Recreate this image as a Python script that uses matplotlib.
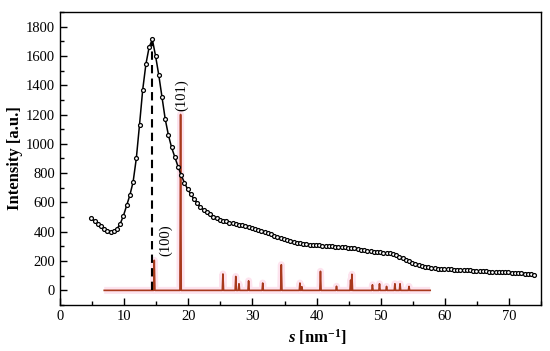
import numpy as np
import matplotlib
matplotlib.use("Agg")
import matplotlib.pyplot as plt
from matplotlib.ticker import MultipleLocator

# ---------------- data ----------------
s_start = 4.9
s_step = 0.5
intensity = [492, 470, 452, 438, 422, 408, 400, 404, 420, 455,
             510, 580, 650, 740, 900, 1130, 1370, 1545, 1660, 1712,
             1600, 1470, 1320, 1170, 1060, 975, 910, 845, 785, 735,
             690, 655, 622, 596, 570, 548, 532, 518, 503, 492,
             482, 474, 470, 463, 457, 452, 449, 446, 440, 434,
             427, 420, 412, 404, 397, 390, 382, 372, 364, 357,
             350, 344, 338, 331, 326, 322, 318, 315, 312, 310,
             309, 307, 305, 304, 303, 301, 299, 297, 295, 294,
             292, 290, 287, 283, 278, 274, 270, 267, 264, 262,
             260, 258, 255, 252, 246, 238, 228, 218, 207, 197,
             188, 180, 173, 167, 162, 158, 154, 150, 148, 146,
             145, 144, 143, 142, 141, 140, 139, 138, 137, 135,
             134, 132, 131, 130, 128, 127, 126, 125, 124, 123,
             122, 121, 120, 118, 116, 114, 112, 110, 108]
s_exp = s_start + s_step * np.arange(len(intensity))

peak_pos = [14.7, 18.8, 25.4, 27.4, 27.9, 29.4, 31.6, 34.5, 37.4, 37.7,
            40.6, 43.1, 45.3, 45.5, 48.7, 49.8, 50.9, 52.2, 53.0, 54.4]
peak_h = [205, 1200, 112, 95, 45, 65, 50, 175, 50, 25,
          130, 28, 70, 110, 38, 45, 27, 45, 45, 27]
pattern_range = [6.9, 57.7]

dash_x = 14.4
labels = ["(100)", "(101)"]
label_pos = [(16.4, 345), (19.0, 1330)]

# ---------------- style ----------------
plt.rcParams['font.family'] = ['Liberation Serif', 'DejaVu Serif']
plt.rcParams['mathtext.fontset'] = 'custom'
plt.rcParams['mathtext.rm'] = 'Liberation Serif:bold'
plt.rcParams['mathtext.it'] = 'Liberation Serif:italic:bold'
plt.rcParams['mathtext.bf'] = 'Liberation Serif:bold'

fig = plt.figure(figsize=(5.5, 3.51), dpi=100)
ax = fig.add_axes([0.109, 0.131, 0.875, 0.835])

# stick pattern path
w = 0.1
px = [pattern_range[0]]
py = [0]
for p, h in sorted(zip(peak_pos, peak_h)):
    px += [p - w, p, p + w]
    py += [0, h, 0]
px.append(pattern_range[1])
py.append(0)

red = '#a8391c'
ax.plot(px, py, color='#fde3ee', lw=5, solid_joinstyle='round',
        solid_capstyle='butt', zorder=1)
ax.plot(px, py, color=red, lw=1.2, zorder=2)

# dashed line to maximum
ax.plot([dash_x, dash_x], [0, max(intensity)], color='black', lw=1.5,
        ls=(0, (4, 2.5)), zorder=3)

# experimental curve
ax.plot(s_exp, intensity, color='black', lw=1.1, marker='o', ms=2.8,
        mfc='white', mec='black', mew=0.9, zorder=4)

for t, (x, y) in zip(labels, label_pos):
    ax.text(x, y, t, rotation=90, ha='center', va='center', fontsize=10.5)

ax.set_xlim(0, 75)
ax.set_ylim(-100, 1900)
ax.xaxis.set_major_locator(MultipleLocator(10))
ax.xaxis.set_minor_locator(MultipleLocator(5))
ax.yaxis.set_major_locator(MultipleLocator(200))
ax.yaxis.set_minor_locator(MultipleLocator(100))
ax.set_yticks(np.arange(0, 1801, 200))
ax.tick_params(which='both', direction='in', top=False, right=False, labelsize=10.5)
ax.tick_params(which='major', length=5, width=1)
ax.tick_params(which='minor', length=3, width=1)
for sp in ax.spines.values():
    sp.set_linewidth(1.0)

ax.set_ylabel('Intensity [a.u.]', fontsize=12, fontweight='bold', labelpad=2)
ax.set_xlabel(r'$\mathit{s}$ [nm$^{\mathrm{-1}}$]', fontsize=12, fontweight='bold', labelpad=2)
ax.xaxis.set_label_coords(0.534, -0.075)

fig.savefig('out.png', dpi=100)
